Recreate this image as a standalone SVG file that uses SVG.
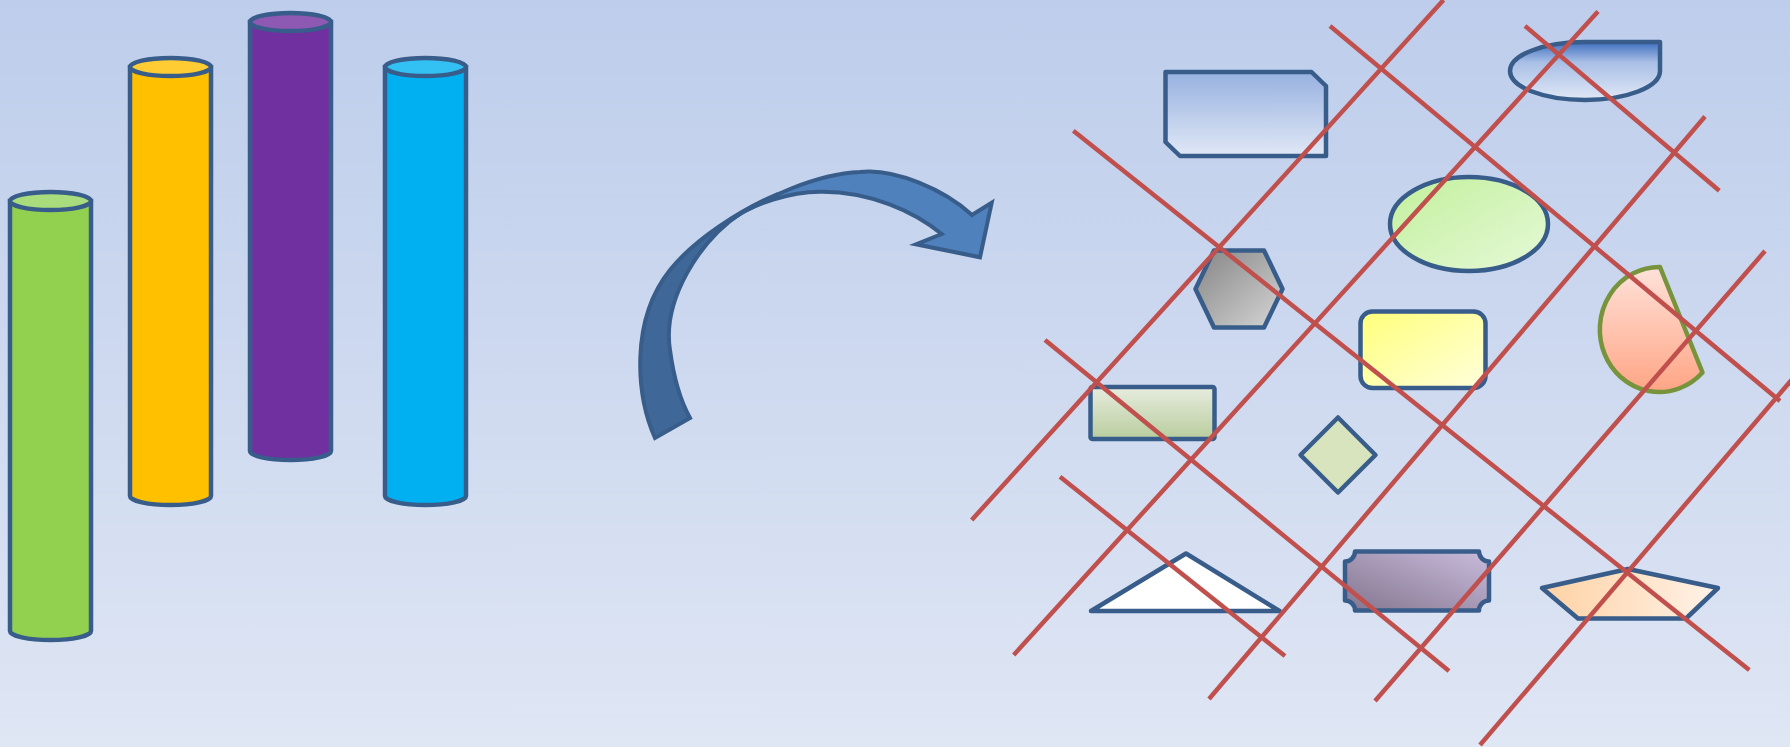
<svg xmlns="http://www.w3.org/2000/svg" width="1790" height="747" viewBox="0 0 1790 747">
<defs>
<linearGradient id="bg" x1="0" y1="0" x2="0" y2="1"><stop offset="0" stop-color="#bdcdeb"/><stop offset="1" stop-color="#dfe6f4"/></linearGradient>
<linearGradient id="gSnip" x1="0" y1="0" x2="0" y2="1"><stop offset="0" stop-color="#97b1e0"/><stop offset="1" stop-color="#e0e8f6"/></linearGradient>
<linearGradient id="gRound" x1="0" y1="0" x2="0" y2="1"><stop offset="0" stop-color="#3f6fbf"/><stop offset="0.35" stop-color="#a9bfe6"/><stop offset="1" stop-color="#e0e8f6"/></linearGradient>
<linearGradient id="gEll" x1="0" y1="0" x2="1" y2="1"><stop offset="0" stop-color="#c2f09c"/><stop offset="1" stop-color="#e6f9d8"/></linearGradient>
<linearGradient id="gHex" x1="0" y1="0" x2="1" y2="1"><stop offset="0" stop-color="#858585"/><stop offset="1" stop-color="#d6d6d6"/></linearGradient>
<linearGradient id="gYel" x1="0" y1="0" x2="1" y2="1"><stop offset="0" stop-color="#ffff7a"/><stop offset="1" stop-color="#ffffdc"/></linearGradient>
<linearGradient id="gGrn" x1="0" y1="0" x2="0" y2="1"><stop offset="0" stop-color="#e6ecdf"/><stop offset="1" stop-color="#b9cd9d"/></linearGradient>
<linearGradient id="gPla" x1="0" y1="1" x2="1" y2="0"><stop offset="0" stop-color="#84768f"/><stop offset="1" stop-color="#c9bcdc"/></linearGradient>
<linearGradient id="gPen" x1="0" y1="0" x2="1" y2="0"><stop offset="0" stop-color="#ffd2a4"/><stop offset="1" stop-color="#fff2e8"/></linearGradient>
<linearGradient id="gChord" x1="0" y1="0" x2="0" y2="1"><stop offset="0" stop-color="#ffe2da"/><stop offset="1" stop-color="#ffa584"/></linearGradient>
<style>
.sh{stroke:#385d8a;stroke-width:4.5;stroke-linejoin:round}
.cyl{stroke:#385d8a;stroke-width:4.5}
.ln{stroke:#c0504d;stroke-width:4.5;fill:none}
.arr{stroke:#385d8a;stroke-width:4;stroke-linejoin:miter}
</style>
</defs>
<rect width="1790" height="747" fill="url(#bg)"/>

<g id="cyl-green">
<path class="cyl" fill="#92d050" d="M10,201 V631 A40.5,9 0 0 0 91,631 V201 Z"/>
<ellipse class="cyl" fill="#a8dc7c" cx="50.5" cy="201" rx="40.5" ry="9"/>
</g>
<g id="cyl-yellow">
<path class="cyl" fill="#ffc000" d="M130,67 V496 A40.5,9 0 0 0 211,496 V67 Z"/>
<ellipse class="cyl" fill="#ffcd33" cx="170.5" cy="67" rx="40.5" ry="9"/>
</g>
<g id="cyl-purple">
<path class="cyl" fill="#7030a0" d="M250,22 V451 A40.5,9 0 0 0 331,451 V22 Z"/>
<ellipse class="cyl" fill="#8d59b3" cx="290.5" cy="22" rx="40.5" ry="9"/>
</g>
<g id="cyl-blue">
<path class="cyl" fill="#00b0f0" d="M385,67 V496 A40.5,9 0 0 0 466,496 V67 Z"/>
<ellipse class="cyl" fill="#33c0f3" cx="425.5" cy="67" rx="40.5" ry="9"/>
</g>

<g id="curved-arrow">
<path class="arr" fill="#3f6899" d="M655,438 C636,395 630,320 670,270 C694,240 740,210 778,194 L741,213 C700,240 662,300 670,350 C674,380 680,400 690,418 Z"/>
<path class="arr" fill="#4f81bd" d="M730,220 C765,198 815,174 860,172 C895,168 945,190 972,215 L991.7,202.7 L980,257.3 L916,244.3 L941.7,234 C915,212 870,191 820,191.7 C790,192 755,203 730,220 Z"/>
</g>

<g id="snip-rect"><path class="sh" fill="url(#gSnip)" d="M1165.5,72 H1311.5 L1326,86 V156 H1180 L1165.5,142 Z"/></g>
<g id="round-corner-ellipse"><path class="sh" fill="url(#gRound)" d="M1585,42 H1660 V71 A75,29 0 0 1 1585,100 A75,29 0 0 1 1510,71 A75,29 0 0 1 1585,42 Z"/></g>
<g id="green-ellipse"><ellipse class="sh" fill="url(#gEll)" cx="1469" cy="224" rx="79" ry="47"/></g>
<g id="hexagon"><path class="sh" fill="url(#gHex)" d="M1195.5,289 L1214,250.5 H1264 L1282.5,289 L1264,327.5 H1214 Z"/></g>
<g id="yellow-rect"><rect class="sh" fill="url(#gYel)" x="1360.5" y="311.5" width="125" height="76.5" rx="12"/></g>
<g id="chord"><path fill="url(#gChord)" stroke="#77933c" stroke-width="4.5" stroke-linejoin="round" d="M1660,267 A59.5,62.5 0 1 0 1702.5,372.5 Z"/></g>
<g id="green-rect"><rect class="sh" fill="url(#gGrn)" x="1090.5" y="387" width="124" height="52" rx="2"/></g>
<g id="diamond"><path class="sh" fill="#d7e4bd" d="M1338,417.5 L1375.5,455 L1338,492.5 L1300.5,455 Z"/></g>
<g id="triangle"><path class="sh" fill="#ffffff" stroke-linejoin="miter" d="M1186,553.5 L1279.5,611 H1091 Z"/></g>
<g id="plaque"><path class="sh" fill="url(#gPla)" d="M1355,551.5 H1479 A10,10 0 0 0 1489,561.5 V600.5 A10,10 0 0 0 1479,610.5 H1355 A10,10 0 0 0 1345,600.5 V561.5 A10,10 0 0 0 1355,551.5 Z"/></g>
<g id="pentagon"><path class="sh" fill="url(#gPen)" stroke-linejoin="miter" d="M1628,569 L1718,588 L1686,618.5 H1578 L1542,588 Z"/></g>

<g id="lines">
<line class="ln" x1="971.7" y1="520" x2="1443.5" y2="0"/>
<line class="ln" x1="1013.7" y1="655" x2="1598" y2="11.5"/>
<line class="ln" x1="1209" y1="699" x2="1705" y2="116.5"/>
<line class="ln" x1="1375" y1="701" x2="1765" y2="251"/>
<line class="ln" x1="1480" y1="745" x2="1800" y2="370"/>
<line class="ln" x1="1073.3" y1="130.7" x2="1749.3" y2="670"/>
<line class="ln" x1="1330" y1="26" x2="1780" y2="401"/>
<line class="ln" x1="1525" y1="26" x2="1719.3" y2="190.7"/>
<line class="ln" x1="1045" y1="340" x2="1449" y2="671"/>
<line class="ln" x1="1060" y1="476.7" x2="1285" y2="656"/>
</g>
</svg>
